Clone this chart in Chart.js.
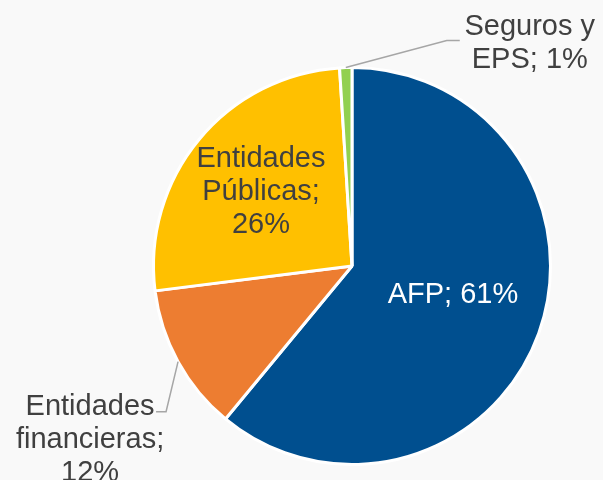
<!DOCTYPE html>
<html>
<head>
<meta charset="utf-8">
<title>Distribución</title>
<script src="https://cdn.jsdelivr.net/npm/chart.js@4.4.1/dist/chart.umd.min.js"></script>
<style>
  html, body { margin: 0; padding: 0; background: #f9f9f9; }
  #wrap { width: 603px; height: 480px; position: relative; }
</style>
</head>
<body>
<div id="wrap"><canvas id="pie"></canvas></div>
<script>
// Data
const categories = ["AFP", "Entidades financieras", "Entidades Públicas", "Seguros y EPS"];
const shares = [61, 12, 26, 1];
const sliceColors = ["#004f8f", "#ed7d31", "#ffc000", "#92d050"];

// Label placement (style only)
const FONT_SIZE = 29;
const LINE_H = 33;
const TEXT_DARK = "#404040";
const labelStyle = [
  { inside: true, dx: 101, dy: 26.5, color: "#ffffff" },
  { inside: false, color: TEXT_DARK, lx: -88, ly: 76, leader: [[-12, 50], [-22, 50]] },
  { inside: true, dx: -91, dy: -76.4, color: TEXT_DARK },
  { inside: false, color: TEXT_DARK, lx: 184, ly: -26, leader: [[101, -27], [114, -27]] },
];

function wrapText(ctx, text, maxW) {
  const words = text.split(" ");
  const lines = [];
  let cur = "";
  words.forEach(w => {
    const test = cur ? cur + " " + w : w;
    if (cur && ctx.measureText(test).width > maxW) {
      lines.push(cur);
      cur = w;
    } else {
      cur = test;
    }
  });
  if (cur) lines.push(cur);
  return lines;
}

const pieLabels = {
  id: "pieLabels",
  afterDatasetsDraw(chart) {
    const ctx = chart.ctx;
    const meta = chart.getDatasetMeta(0);
    ctx.save();
    ctx.font = FONT_SIZE + "px 'Liberation Sans', Arial, sans-serif";
    ctx.textAlign = "center";
    ctx.textBaseline = "alphabetic";
    meta.data.forEach((arc, i) => {
      const st = labelStyle[i];
      const text = categories[i] + "; " + shares[i] + "%";
      const lines = wrapText(ctx, text, 150);
      let cx, cy;
      if (st.inside) {
        cx = arc.x + st.dx;
        cy = arc.y + st.dy;
      } else {
        const mid = (arc.startAngle + arc.endAngle) / 2;
        const ex = arc.x + Math.cos(mid) * arc.outerRadius;
        const ey = arc.y + Math.sin(mid) * arc.outerRadius;
        ctx.strokeStyle = "#a6a6a6";
        ctx.lineWidth = 1.5;
        ctx.beginPath();
        ctx.moveTo(ex, ey);
        st.leader.forEach(p => ctx.lineTo(ex + p[0], ey + p[1]));
        ctx.stroke();
        cx = ex + st.lx;
        cy = ey + st.ly;
      }
      ctx.fillStyle = st.color;
      const capHalf = FONT_SIZE * 0.716 / 2;
      lines.forEach((ln, k) => {
        const y = cy + (k - (lines.length - 1) / 2) * LINE_H + capHalf;
        ctx.fillText(ln, cx, y);
      });
    });
    ctx.restore();
  }
};

new Chart(document.getElementById("pie"), {
  type: "pie",
  data: {
    labels: categories,
    datasets: [{
      data: shares,
      backgroundColor: sliceColors,
      borderColor: "#ffffff",
      borderWidth: 3,
    }],
  },
  options: {
    responsive: true,
    maintainAspectRatio: false,
    animation: false,
    layout: { padding: { left: 152, right: 51, top: 66, bottom: 14 } },
    plugins: {
      legend: { display: false },
      tooltip: { enabled: false },
    },
  },
  plugins: [pieLabels],
});
</script>
</body>
</html>
